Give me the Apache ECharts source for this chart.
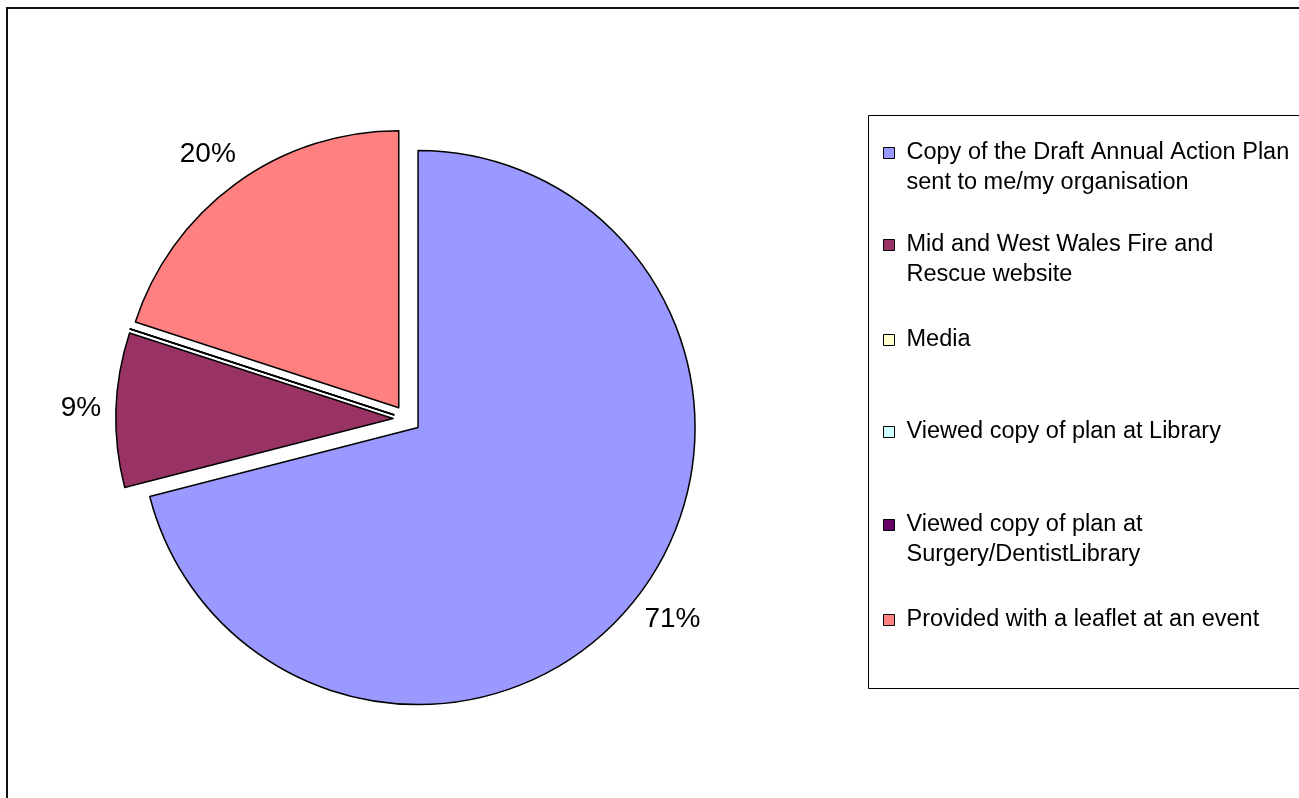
<!DOCTYPE html>
<html>
<head>
<meta charset="utf-8">
<script src="https://cdn.jsdelivr.net/npm/echarts@6/dist/echarts.min.js"></script>
<style>
  html, body { margin: 0; padding: 0; background: #ffffff; }
  #chart { width: 1299px; height: 798px; }
</style>
</head>
<body>
<div id="chart"></div>
<script>
// How respondents came across the Draft Annual Action Plan (share of responses, %)
const categories = [
  'Copy of the Draft Annual Action Plan sent to me/my organisation',
  'Mid and West Wales Fire and Rescue website',
  'Media',
  'Viewed copy of plan at Library',
  'Viewed copy of plan at Surgery/DentistLibrary',
  'Provided with a leaflet at an event'
];
const legendText = [
  'Copy of the Draft Annual Action Plan\nsent to me/my organisation',
  'Mid and West Wales Fire and\nRescue website',
  'Media',
  'Viewed copy of plan at Library',
  'Viewed copy of plan at\nSurgery/DentistLibrary',
  'Provided with a leaflet at an event'
];
const percentages = [71, 9, 0, 0, 0, 20];
const sliceColors = ['#9999FF', '#993366', '#FFFFCC', '#CCFFFF', '#660066', '#FF8080'];

const FONT = "'Liberation Sans', Arial, sans-serif";
const LEGEND_LINE = 30;
const legendRowY = [153, 245, 340, 432, 525, 620]; // centre of each entry's first line

const chart = echarts.init(document.getElementById('chart'), null, { renderer: 'canvas' });

// One legend block per entry so each row sits at its own height.
// A wrapped label gets an empty line on top, so the block is centred
// on its first line and the swatch lines up with it.
const legends = categories.map((name, i) => {
  const twoLines = legendText[i].indexOf('\n') >= 0;
  const text = twoLines ? '\n' + legendText[i] : legendText[i];
  const topOffset = twoLines ? LEGEND_LINE * 1.5 : LEGEND_LINE * 0.5;
  return {
    data: [name],
    orient: 'vertical',
    left: 883,
    top: legendRowY[i] - topOffset,
    padding: 0,
    itemWidth: 11,
    itemHeight: 11,
    icon: 'rect',
    selectedMode: false,
    itemStyle: { borderColor: '#000', borderWidth: 1 },
    formatter: () => text,
    textStyle: {
      fontFamily: FONT,
      fontSize: 23.5,
      color: '#000',
      lineHeight: LEGEND_LINE,
      padding: [0, 0, 0, 7]
    }
  };
});

const pieData = categories.map((name, i) => ({
  name: name,
  value: percentages[i],
  selected: true,
  itemStyle: { color: sliceColors[i] },
  label: { show: percentages[i] > 0 }
}));

chart.setOption({
  animation: false,
  backgroundColor: '#ffffff',
  tooltip: { show: false },
  legend: legends,
  graphic: [
    {
      type: 'rect',
      shape: { x: 7, y: 8, width: 1400, height: 900 },
      style: { fill: 'none', stroke: '#111', lineWidth: 2 },
      z: 0
    },
    {
      type: 'rect',
      shape: { x: 868.5, y: 115.5, width: 500, height: 573 },
      style: { fill: '#fff', stroke: '#000', lineWidth: 1 },
      z: 0
    }
  ],
  series: [{
    type: 'pie',
    center: [407, 419],
    radius: 277,
    startAngle: 90,
    clockwise: true,
    selectedMode: 'multiple',
    selectedOffset: 14,
    avoidLabelOverlap: false,
    emphasis: { disabled: true },
    select: { itemStyle: { borderColor: '#000', borderWidth: 1.5 } },
    itemStyle: { borderColor: '#000', borderWidth: 1.5 },
    label: {
      show: true,
      position: 'outside',
      formatter: '{c}%',
      fontFamily: FONT,
      fontSize: 28,
      color: '#000'
    },
    labelLine: { show: false, length: 36, length2: -26 },
    data: pieData,
    z: 2
  }]
});
</script>
</body>
</html>
